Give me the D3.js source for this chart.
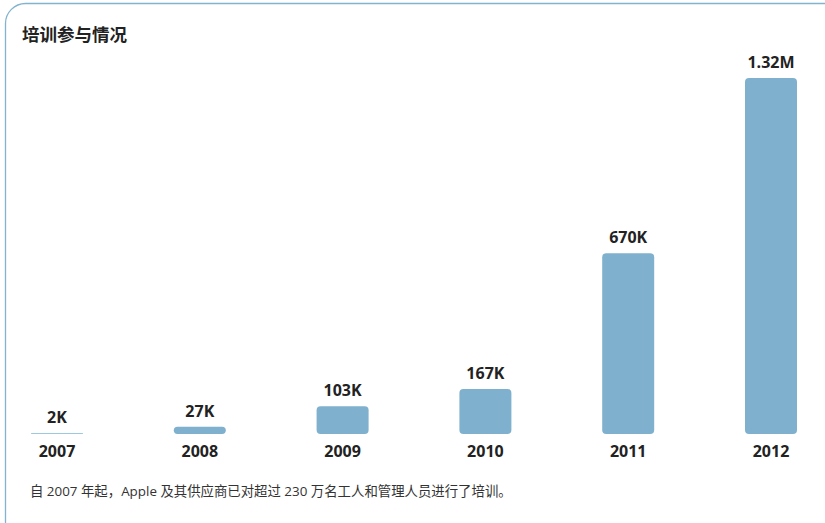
<!DOCTYPE html>
<html>
<head>
<meta charset="utf-8">
<script src="https://cdn.jsdelivr.net/npm/d3@7"></script>
<style>
  body { margin: 0; background: #fff; }
  svg { display: block; font-family: "Open Sans", "Noto Sans CJK SC", sans-serif; }
</style>
</head>
<body>
<div id="chart"></div>
<script>
// data
const years = ["2007", "2008", "2009", "2010", "2011", "2012"];
const participants = [2000, 27000, 103000, 167000, 670000, 1320000];
const valueLabels = ["2K", "27K", "103K", "167K", "670K", "1.32M"];

const width = 825;
const height = 523;

const svg = d3.select("#chart").append("svg")
  .attr("width", width)
  .attr("height", height);

// card outline
svg.append("rect")
  .attr("x", 5.5)
  .attr("y", 3.5)
  .attr("width", 900)
  .attr("height", 700)
  .attr("rx", 20)
  .attr("fill", "#fff")
  .attr("stroke", "#82b3cf")
  .attr("stroke-width", 1.3);

svg.append("text")
  .attr("x", 22)
  .attr("y", 41)
  .attr("font-size", 17.5)
  .attr("font-weight", "bold")
  .attr("fill", "#222")
  .text("培训参与情况");

const baseline = 434;
const x = d3.scalePoint()
  .domain(years)
  .range([57, 771]);

const y = d3.scaleLinear()
  .domain([0, 1320000])
  .range([baseline, 78]);

const barW = 52;

const bars = svg.selectAll("g.bar")
  .data(years.map((yr, i) => ({ yr, v: participants[i], label: valueLabels[i] })))
  .enter().append("g")
  .attr("class", "bar");

bars.append("rect")
  .attr("x", d => x(d.yr) - barW / 2)
  .attr("width", barW)
  .attr("y", d => Math.min(y(d.v), baseline - 1))
  .attr("height", d => Math.max(baseline - y(d.v), 1))
  .attr("rx", d => Math.min(4, Math.max(baseline - y(d.v), 1) / 2))
  .attr("fill", d => d.v < 5000 ? "#9cc8e0" : "#7fb1ce");

bars.append("text")
  .attr("x", d => x(d.yr))
  .attr("y", d => y(d.v) - 10)
  .attr("text-anchor", "middle")
  .attr("font-size", 16)
  .attr("font-weight", "bold")
  .attr("fill", "#222")
  .text(d => d.label);

bars.append("text")
  .attr("x", d => x(d.yr))
  .attr("y", 457)
  .attr("text-anchor", "middle")
  .attr("font-size", 16)
  .attr("font-weight", "bold")
  .attr("fill", "#222")
  .text(d => d.yr);

svg.append("text")
  .attr("x", 30)
  .attr("y", 496)
  .attr("font-size", 13.4)
  .attr("fill", "#333")
  .text("自 2007 年起，Apple 及其供应商已对超过 230 万名工人和管理人员进行了培训。");
</script>
</body>
</html>
